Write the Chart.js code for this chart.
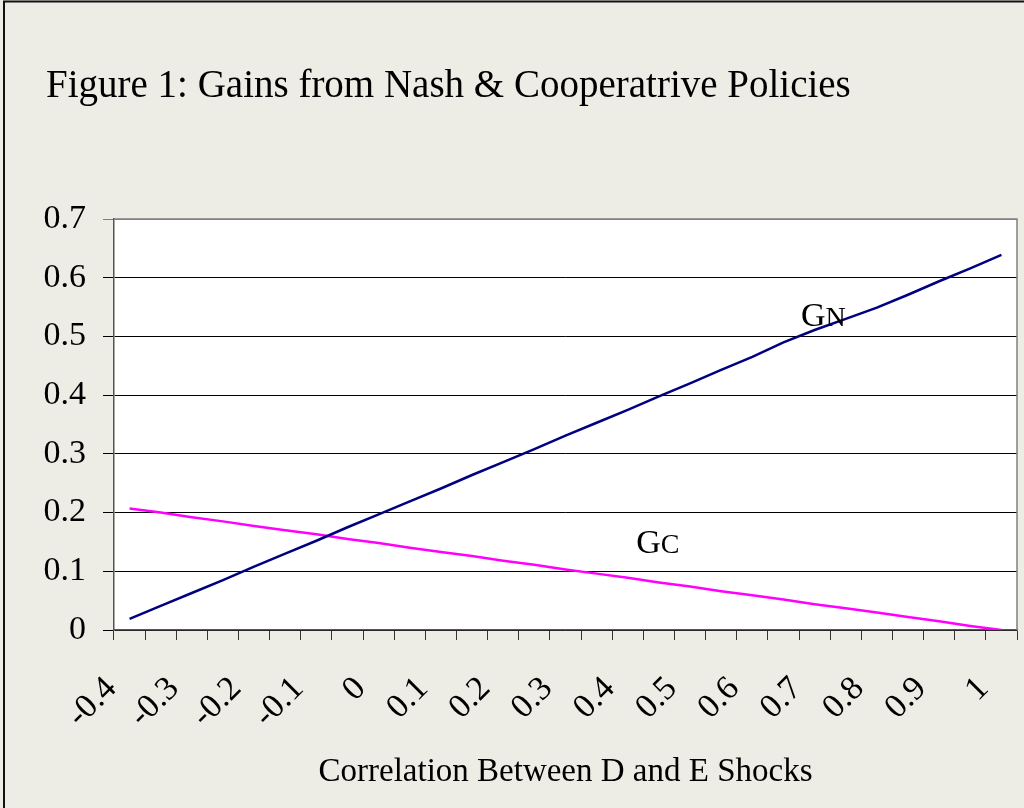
<!DOCTYPE html>
<html>
<head>
<meta charset="utf-8">
<script src="https://cdn.jsdelivr.net/npm/chart.js@4.4.1/dist/chart.umd.min.js"></script>
<style>
  html, body { margin: 0; padding: 0; background: #EDECE5; }
  #grafico { display: block; }
</style>
</head>
<body>
<canvas id="grafico" width="1024" height="808"></canvas>
<script>
// correlacion entre shocks D y E (eje x)
const correlaciones = [-0.4, -0.35, -0.3, -0.25, -0.2, -0.15, -0.1, -0.05, 0, 0.05, 0.1, 0.15, 0.2, 0.25, 0.3,
    0.35, 0.4, 0.45, 0.5, 0.55, 0.6, 0.65, 0.7, 0.75, 0.8, 0.85, 0.9, 0.95, 1];

const gananciasNash = [0.019, 0.041, 0.063, 0.085, 0.108, 0.130, 0.152, 0.175, 0.197, 0.219, 0.241, 0.264, 0.286, 0.308, 0.331,
    0.353, 0.375, 0.398, 0.420, 0.443, 0.465, 0.490, 0.511, 0.530, 0.549, 0.571, 0.594, 0.616, 0.639];

const gananciasCoop = [0.207, 0.200, 0.192, 0.185, 0.177, 0.170, 0.163, 0.155, 0.148, 0.140, 0.133, 0.126, 0.118, 0.111, 0.103,
    0.096, 0.089, 0.081, 0.074, 0.066, 0.059, 0.052, 0.044, 0.037, 0.030, 0.022, 0.015, 0.007, 0.000];

const ticksY = [0, 0.1, 0.2, 0.3, 0.4, 0.5, 0.6, 0.7];

// etiquetas sobre las lineas: [letra grande, letra chica, indice categoria, valor]
const notas = [
    ['G', 'N', 21.56, 0.518],
    ['G', 'C', 16.27, 0.131]
];

const fuente = '"Liberation Serif", "Times New Roman", serif';

const fondo = {
    id: 'fondo',
    beforeDraw(chart) {
        const ctx = chart.ctx;
        const a = chart.chartArea;
        ctx.save();
        ctx.fillStyle = '#EDECE5';
        ctx.fillRect(0, 0, chart.width, chart.height);
        ctx.strokeStyle = '#111';
        ctx.lineWidth = 2;
        ctx.beginPath();
        ctx.moveTo(4, 808);
        ctx.lineTo(4, 1.5);
        ctx.lineTo(1024, 1.5);
        ctx.stroke();
        ctx.fillStyle = '#FFFFFF';
        ctx.fillRect(a.left, a.top, a.right - a.left, a.bottom - a.top);
        ctx.restore();
    },
    afterDraw(chart) {
        const ctx = chart.ctx;
        const a = chart.chartArea;
        ctx.save();
        ctx.strokeStyle = '#808080';
        ctx.lineWidth = 1.5;
        ctx.beginPath();
        ctx.moveTo(a.left, a.top);
        ctx.lineTo(a.right, a.top);
        ctx.lineTo(a.right, a.bottom);
        ctx.stroke();

        // titulo
        ctx.fillStyle = '#000';
        ctx.font = '39px ' + fuente;
        ctx.textBaseline = 'alphabetic';
        ctx.textAlign = 'left';
        ctx.fillText('Figure 1: Gains from Nash & Cooperatrive Policies', 46, 97);

        // GN / GC
        const x = chart.scales.x;
        const y = chart.scales.y;
        notas.forEach(n => {
            const px = x.getPixelForValue(n[2]);
            const py = y.getPixelForValue(n[3]);
            ctx.font = '34px ' + fuente;
            ctx.fillText(n[0], px, py);
            const w = ctx.measureText(n[0]).width;
            ctx.font = '28px ' + fuente;
            ctx.fillText(n[1], px + w, py);
        });
        ctx.restore();
    }
};

new Chart(document.querySelector('#grafico'), {
    type: 'line',
    data: {
        labels: correlaciones,
        datasets: [{
            label: 'GN',
            data: gananciasNash,
            borderColor: '#000080',
            borderWidth: 2.5,
            pointRadius: 0,
            tension: 0
        }, {
            label: 'GC',
            data: gananciasCoop,
            borderColor: '#FF00FF',
            borderWidth: 2.5,
            pointRadius: 0,
            tension: 0
        }]
    },
    options: {
        responsive: false,
        animation: false,
        layout: {
            padding: { top: 219, right: 7, left: 0, bottom: 0 }
        },
        plugins: {
            legend: { display: false },
            tooltip: { enabled: false }
        },
        scales: {
            x: {
                type: 'category',
                offset: true,
                afterFit(scale) {
                    scale.height = 178;
                    scale.paddingLeft = 0;
                    scale.paddingRight = 0;
                },
                grid: {
                    offset: true,
                    drawOnChartArea: false,
                    drawTicks: true,
                    tickLength: 10,
                    color: '#333'
                },
                border: { color: '#555', width: 1.5 },
                ticks: {
                    autoSkip: false,
                    maxRotation: 45,
                    minRotation: 45,
                    labelOffset: -18,
                    padding: 29,
                    color: '#000',
                    font: { family: fuente, size: 34 },
                    callback: function (value, index) {
                        return index % 2 === 0 ? String(correlaciones[index]) : '';
                    }
                },
                title: {
                    display: true,
                    text: 'Correlation Between D and E Shocks',
                    color: '#000',
                    font: { family: fuente, size: 33 },
                    padding: { top: 0, bottom: 16 }
                }
            },
            y: {
                min: 0,
                max: 0.7,
                afterFit(scale) { scale.width = 114; },
                afterBuildTicks(scale) {
                    scale.ticks = ticksY.map(v => ({ value: v }));
                },
                grid: {
                    color: ctx => (ctx.tick && ctx.tick.value === 0.7 ? '#808080' : '#000'),
                    lineWidth: 1,
                    tickLength: 11
                },
                border: { color: '#555', width: 1.5 },
                ticks: {
                    padding: 17,
                    color: '#000',
                    font: { family: fuente, size: 34 },
                    callback: v => String(v)
                }
            }
        }
    },
    plugins: [fondo]
});
</script>
</body>
</html>
